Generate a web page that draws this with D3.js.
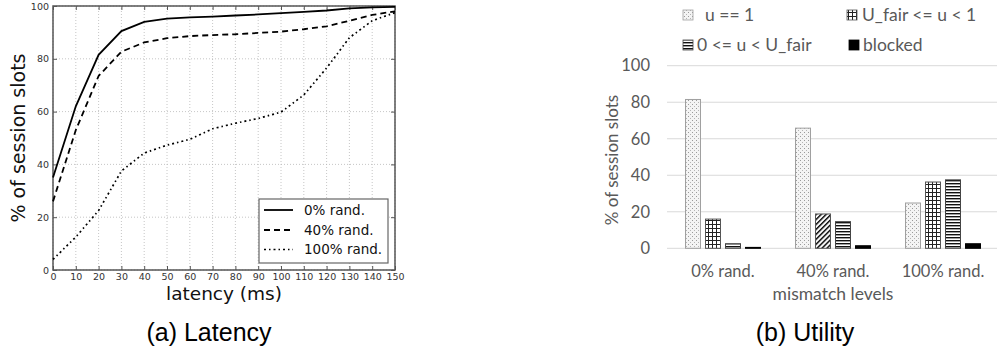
<!DOCTYPE html>
<html><head><meta charset="utf-8">
<script src="https://cdn.jsdelivr.net/npm/d3@7"></script>
<style>
html,body{margin:0;padding:0;background:#fff;}
svg{display:block;}
</style>
</head><body>
<svg id="chart" width="997" height="351"></svg>
<script>
// ---------- Data: (a) Latency CDF ----------
const latencyTicks = [0,10,20,30,40,50,60,70,80,90,100,110,120,130,140,150];
const latencyYTicks = [0,20,40,60,80,100];
const rand0   = [35,62,81.5,90.5,94,95.2,95.7,96,96.4,96.8,97.3,97.8,98.3,99.1,99.5,99.7];
const rand40  = [26,53,73.5,82.7,86.2,87.8,88.6,89,89.3,89.8,90.3,91.2,92.3,94.4,96.6,98];
const rand100 = [4,12.5,22.5,37.5,44.3,47.3,49.5,53.5,55.6,57.4,59.8,66.3,76.5,88,94.4,97.5];
const latencyNames = ["0% rand.","40% rand.","100% rand."];

// ---------- Data: (b) Utility ----------
const utilCategories = ["0% rand.","40% rand.","100% rand."];
const utilSeries = ["u == 1","U_fair <= u < 1","0 <= u < U_fair","blocked"];
const uEq1      = [81.5,65.8,24.8];
const uFairTo1  = [16,18.8,36.3];
const zeroToFair= [2.5,14.6,37.5];
const blocked   = [0.5,1.4,2.5];
const utilYTicks = [0,20,40,60,80,100];

const svg = d3.select("#chart");
const defs = svg.append("defs");

// patterns
const pDots = defs.append("pattern").attr("id","pDots").attr("patternUnits","userSpaceOnUse").attr("width",4).attr("height",4);
pDots.append("rect").attr("width",4).attr("height",4).attr("fill","#f4f4f4");
pDots.append("rect").attr("x",0).attr("y",0).attr("width",1).attr("height",1).attr("fill","#9a9a9a");
pDots.append("rect").attr("x",2).attr("y",2).attr("width",1).attr("height",1).attr("fill","#b5b5b5");

const pGrid = defs.append("pattern").attr("id","pGrid").attr("patternUnits","userSpaceOnUse").attr("width",4).attr("height",4);
pGrid.append("rect").attr("width",4).attr("height",4).attr("fill","#fff");
pGrid.append("rect").attr("x",0).attr("y",0).attr("width",4).attr("height",1).attr("fill","#222");
pGrid.append("rect").attr("x",0).attr("y",0).attr("width",1).attr("height",4).attr("fill","#222");

const pHoriz = defs.append("pattern").attr("id","pHoriz").attr("patternUnits","userSpaceOnUse").attr("width",4).attr("height",3);
pHoriz.append("rect").attr("width",4).attr("height",3).attr("fill","#fff");
pHoriz.append("rect").attr("x",0).attr("y",0).attr("width",4).attr("height",1.4).attr("fill","#111");

const pDiag = defs.append("pattern").attr("id","pDiag").attr("patternUnits","userSpaceOnUse").attr("width",3.5).attr("height",3.5).attr("patternTransform","rotate(45)");
pDiag.append("rect").attr("width",3.5).attr("height",3.5).attr("fill","#fff");
pDiag.append("rect").attr("x",0).attr("y",0).attr("width",1.5).attr("height",3.5).attr("fill","#111");

// ================= (a) Latency =================
const xL = d3.scaleLinear().domain([0,150]).range([53,395]);
const yL = d3.scaleLinear().domain([0,100]).range([270,6]);
const gA = svg.append("g");

// grid
gA.append("g").selectAll("line.vg").data(latencyTicks).join("line")
  .attr("x1",d=>xL(d)).attr("x2",d=>xL(d)).attr("y1",yL(0)).attr("y2",yL(100))
  .attr("stroke","#b8b8b8").attr("stroke-width",0.8).attr("stroke-dasharray","1,2");
gA.append("g").selectAll("line.hg").data(latencyYTicks).join("line")
  .attr("x1",xL(0)).attr("x2",xL(150)).attr("y1",d=>yL(d)).attr("y2",d=>yL(d))
  .attr("stroke","#b8b8b8").attr("stroke-width",0.8).attr("stroke-dasharray","1,2");

// axes (ticks inward)
const axB = gA.append("g").attr("transform",`translate(0,${yL(0)})`)
  .call(d3.axisBottom(xL).tickValues(latencyTicks).tickSize(-4).tickPadding(3));
const axL = gA.append("g").attr("transform",`translate(${xL(0)},0)`)
  .call(d3.axisLeft(yL).tickValues(latencyYTicks).tickSize(-4).tickPadding(4));
const axT = gA.append("g").attr("transform",`translate(0,${yL(100)})`)
  .call(d3.axisTop(xL).tickValues(latencyTicks).tickSize(-4).tickFormat(""));
const axR = gA.append("g").attr("transform",`translate(${xL(150)},0)`)
  .call(d3.axisRight(yL).tickValues(latencyYTicks).tickSize(-4).tickFormat(""));
[axB,axL,axT,axR].forEach(a=>{
  a.select(".domain").remove();
  a.selectAll("line").attr("stroke","#555");
  a.selectAll("text").attr("font-family","DejaVu Sans").attr("font-size",9.5).attr("fill","#333");
});
// frame
gA.append("rect").attr("x",xL(0)).attr("y",yL(100)).attr("width",xL(150)-xL(0)).attr("height",yL(0)-yL(100))
  .attr("fill","none").attr("stroke","#555").attr("stroke-width",1.5);

const lineGen = d3.line().x((d,i)=>xL(latencyTicks[i])).y(d=>yL(d));
const styles = [
  {data:rand0, dash:null, w:1.8},
  {data:rand40, dash:"6,4", w:1.8},
  {data:rand100, dash:"2,3,1.5,3", w:1.7}
];
styles.forEach(s=>{
  gA.append("path").datum(s.data).attr("d",lineGen).attr("fill","none")
    .attr("stroke","#000").attr("stroke-width",s.w).attr("stroke-dasharray",s.dash);
});

// legend
const lg = gA.append("g");
lg.append("rect").attr("x",259).attr("y",199).attr("width",129).attr("height",64)
  .attr("fill","#fff").attr("stroke","#666").attr("stroke-width",1.2);
const legY = [210,230,249.5];
styles.forEach((s,i)=>{
  lg.append("line").attr("x1",264).attr("x2",293).attr("y1",legY[i]).attr("y2",legY[i])
    .attr("stroke","#000").attr("stroke-width",s.w).attr("stroke-dasharray",s.dash);
  lg.append("text").attr("x",304).attr("y",legY[i]).attr("dy","0.36em")
    .attr("font-family","DejaVu Sans").attr("font-size",13.5).attr("fill","#111").text(latencyNames[i]);
});

// axis labels
gA.append("text").attr("x",224).attr("y",299.5).attr("text-anchor","middle")
  .attr("font-family","DejaVu Sans").attr("font-size",18.5).attr("fill","#111").text("latency (ms)");
gA.append("text").attr("transform","translate(25,138) rotate(-90)").attr("text-anchor","middle")
  .attr("font-family","DejaVu Sans").attr("font-size",19).attr("fill","#111").text("% of session slots");
svg.append("text").attr("x",209).attr("y",341).attr("text-anchor","middle")
  .attr("font-family","Liberation Sans").attr("font-size",25).attr("fill","#000").text("(a) Latency");

// ================= (b) Utility =================
const gB = svg.append("g");
const yU = d3.scaleLinear().domain([0,100]).range([248.3,65.7]);
const x0 = d3.scaleBand().domain(utilCategories).range([668,998]);
const x1 = d3.scaleBand().domain(utilSeries).range([0,x0.bandwidth()]).paddingInner(0.2).paddingOuter(0.85);
const seriesVals = [uEq1,uFairTo1,zeroToFair,blocked];
const fills = ["url(#pDots)","url(#pGrid)","url(#pHoriz)","#000"];
const strokes = ["#a0a0a0","#555","#444","#000"];
// the original chart draws the second series of the middle group with a diagonal hatch
const fillOverride = {"1-1":"url(#pDiag)"};

gB.append("g").selectAll("line").data(utilYTicks).join("line")
  .attr("x1",667).attr("x2",997).attr("y1",d=>yU(d)).attr("y2",d=>yU(d))
  .attr("stroke","#d9d9d9").attr("stroke-width",1);

const yAx = gB.append("g").attr("transform","translate(656,0)")
  .call(d3.axisLeft(yU).tickValues(utilYTicks).tickSize(0).tickPadding(6));
yAx.select(".domain").remove();
yAx.selectAll("text").attr("font-family","Lato").attr("font-size",16.5).attr("fill","#595959");

utilSeries.forEach((s,si)=>{
  gB.append("g").selectAll("rect").data(seriesVals[si]).join("rect")
    .attr("x",(d,ci)=>x0(utilCategories[ci])+x1(s)+0.5)
    .attr("y",d=>yU(d))
    .attr("width",x1.bandwidth()-1)
    .attr("height",d=>yU(0)-yU(d))
    .attr("fill",(d,ci)=>fillOverride[`${ci}-${si}`]||fills[si])
    .attr("stroke",strokes[si]).attr("stroke-width",1);
});

const xAx = gB.append("g").attr("transform",`translate(0,${yU(0)})`)
  .call(d3.axisBottom(x0).tickSize(0).tickPadding(17));
xAx.select(".domain").remove();
xAx.selectAll("text").attr("font-family","Lato").attr("font-size",16.5).attr("fill","#595959");

gB.append("text").attr("x",833).attr("y",300).attr("text-anchor","middle")
  .attr("font-family","Lato").attr("font-size",17.5).attr("fill","#595959").text("mismatch levels");
gB.append("text").attr("transform","translate(618,160) rotate(-90)").attr("text-anchor","middle")
  .attr("font-family","Lato").attr("font-size",17).attr("fill","#595959").text("% of session slots");

// legend
const legPos = [[683,15],[847,15],[683,45],[849,45]];
const legTextDx = [22,15,14,14];
utilSeries.forEach((s,i)=>{
  const [lx,ly] = legPos[i];
  gB.append("rect").attr("x",lx).attr("y",ly-5).attr("width",10).attr("height",10)
    .attr("fill",fills[i]).attr("stroke",strokes[i]).attr("stroke-width",0.8);
  gB.append("text").attr("x",lx+legTextDx[i]).attr("y",ly).attr("dy","0.35em")
    .attr("font-family","Lato").attr("font-size",17.5).attr("fill","#595959").text(s);
});

svg.append("text").attr("x",805).attr("y",341).attr("text-anchor","middle")
  .attr("font-family","Liberation Sans").attr("font-size",25).attr("fill","#000").text("(b) Utility");
</script>
</body></html>
